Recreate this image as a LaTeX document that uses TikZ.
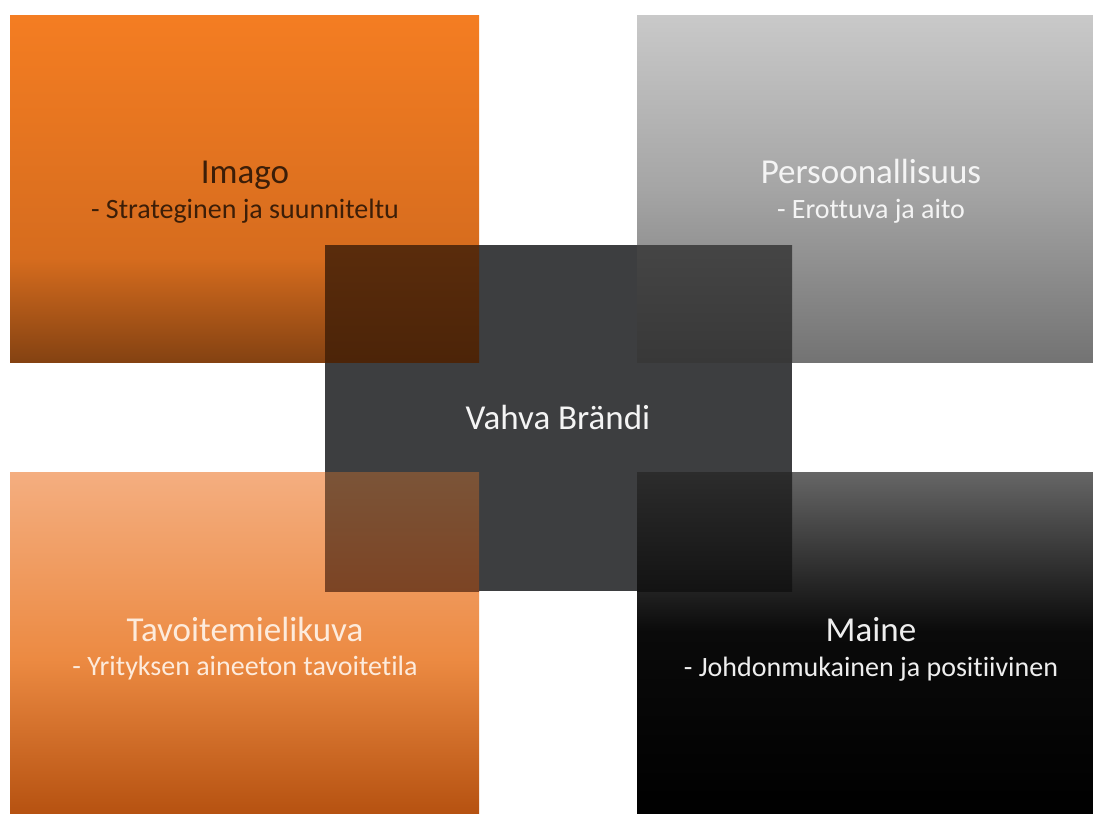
\documentclass[tikz,border=0pt]{standalone}
\usepackage{fontspec}
\setmainfont[Ligatures={NoCommon,NoRare,NoContextual}]{Carlito}
\definecolor{tlT}{HTML}{F47D22}\definecolor{tlM}{HTML}{D66C1E}\definecolor{tlB}{HTML}{844212}
\definecolor{trT}{HTML}{C9C9C9}\definecolor{trM}{HTML}{A5A5A5}\definecolor{trB}{HTML}{737373}
\definecolor{blT}{HTML}{F4AE80}\definecolor{blM}{HTML}{EC8A42}\definecolor{blB}{HTML}{B4500F}
\definecolor{brT}{HTML}{666666}\definecolor{brM}{HTML}{0A0A0A}\definecolor{brB}{HTML}{000000}
\definecolor{ctr}{HTML}{3D3E40}
\definecolor{otlT}{HTML}{5A2C0C}\definecolor{otlB}{HTML}{4C2408}
\definecolor{otrT}{HTML}{454545}\definecolor{otrB}{HTML}{383838}
\definecolor{oblT}{HTML}{7B5438}\definecolor{oblB}{HTML}{7C4424}
\definecolor{obrT}{HTML}{2C2C2C}\definecolor{obrB}{HTML}{131313}
\definecolor{txtTL}{HTML}{3C1E08}\definecolor{txtTR}{HTML}{F4F4F4}
\definecolor{txtBL}{HTML}{FDEBDC}\definecolor{txtBR}{HTML}{EEEEEE}
\pgfdeclareverticalshading{tlshade}{100bp}{color(0bp)=(tlB); color(25bp)=(tlB); color(40bp)=(tlM); color(75bp)=(tlT); color(100bp)=(tlT)}
\pgfdeclareverticalshading{trshade}{100bp}{color(0bp)=(trB); color(25bp)=(trB); color(50bp)=(trM); color(75bp)=(trT); color(100bp)=(trT)}
\pgfdeclareverticalshading{blshade}{100bp}{color(0bp)=(blB); color(25bp)=(blB); color(48bp)=(blM); color(75bp)=(blT); color(100bp)=(blT)}
\pgfdeclareverticalshading{brshade}{100bp}{color(0bp)=(brB); color(25bp)=(brB); color(52bp)=(brM); color(75bp)=(brT); color(100bp)=(brT)}
\tikzset{
  title/.style={anchor=base, inner sep=0pt, font=\fontsize{35}{38}\selectfont},
  subtitle/.style={anchor=base, inner sep=0pt, font=\fontsize{28}{32}\selectfont},
}
\begin{document}
\begin{tikzpicture}[x=1pt,y=-1pt]
\useasboundingbox (0,0) rectangle (1093,814);
\fill[white] (0,0) rectangle (1093,814);
\begin{scope}
\clip (0,0) rectangle (1093,814);
% outer boxes
\shade[shading=tlshade] (10,15) rectangle (479,362);
\shade[shading=trshade] (637,15) rectangle (1106,362);
\shade[shading=blshade] (10,472) rectangle (479,819);
\shade[shading=brshade] (637,472) rectangle (1106,819);
% centre box
\fill[ctr] (325,245) rectangle (792,591);
% overlaps
\shade[top color=otlT, bottom color=otlB] (325,245) rectangle (479,362);
\shade[top color=otrT, bottom color=otrB] (637,245) rectangle (792,362);
\shade[top color=oblT, bottom color=oblB] (325,472) rectangle (479,591);
\shade[top color=obrT, bottom color=obrB] (637,472) rectangle (792,591);
\end{scope}
% texts
\node[title, text=txtTL] (imago) at (245,183) {Imago};
\node[subtitle, text=txtTL] (imagoSub) at (245,218) {- Strateginen ja suunniteltu};
\node[title, text=txtTR] (pers) at (871,183) {Persoonallisuus};
\node[subtitle, text=txtTR] (persSub) at (871,218) {- Erottuva ja aito};
\node[title, text=txtBL] (tavo) at (245,641) {Tavoitemielikuva};
\node[subtitle, text=txtBL] (tavoSub) at (245,675) {- Yrityksen aineeton tavoitetila};
\node[title, text=txtBR] (maine) at (871,641) {Maine};
\node[subtitle, text=txtBR] (maineSub) at (871,676) {- Johdonmukainen ja positiivinen};
\node[title, text=txtTR] (brandi) at (558,429) {Vahva Brändi};
\end{tikzpicture}
\end{document}
